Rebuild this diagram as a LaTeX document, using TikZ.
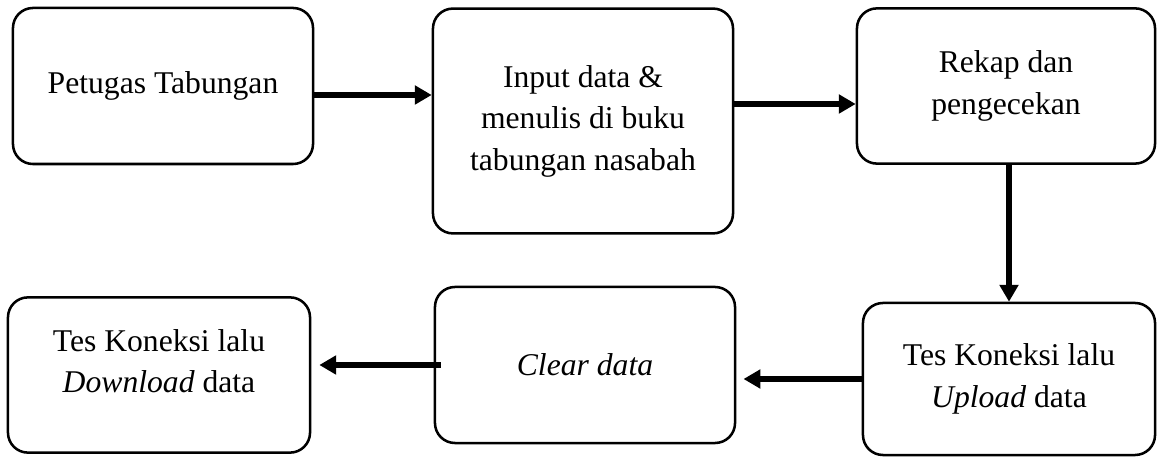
\documentclass[tikz,border=0pt]{standalone}
\usepackage{fontspec}
\setmainfont{Liberation Serif}
\usepackage{tikz}
\usetikzlibrary{arrows.meta,calc,positioning}

\begin{document}
\begin{tikzpicture}[x=0.025cm,y=-0.025cm,
		proses/.style={draw,line width=1.8pt,rounded corners=0.5cm,align=center,
			font=\fontsize{22.5}{29.5}\selectfont,inner sep=0pt},
		alur/.style={line width=3.6pt,-{Triangle[length=12pt,width=13pt]}}]
		\useasboundingbox (0,0) rectangle (1163,457);
		% baris atas
		\node[proses,minimum width=7.5cm,minimum height=3.9cm] (petugas) at (163,86) {Petugas Tabungan};
		\node[proses,minimum width=7.5cm,minimum height=5.62cm] (input) at (583,121) {Input data \&\\ menulis di buku\\ tabungan nasabah};
		\node[proses,minimum width=7.45cm,minimum height=3.88cm] (rekap) at (1006,86) {Rekap dan\\ pengecekan};
		% baris bawah
		\node[proses,minimum width=7.3cm,minimum height=3.8cm] (upload) at (1009,379) {Tes Koneksi lalu\\ \textit{Upload} data};
		\node[proses,minimum width=7.5cm,minimum height=3.9cm] (clear) at (585,365) {\textit{Clear data}};
		\node[proses,minimum width=7.55cm,minimum height=3.88cm,text depth=0.7cm] (download) at (159,375) {Tes Koneksi lalu\\ \textit{Download} data};
		% panah
		\draw[alur] (petugas.east |- 0,95) -- (input.west |- 0,95);
		\draw[alur] (input.east |- 0,104) -- (rekap.west |- 0,104);
		\draw[alur] (upload.north |- rekap.south) -- (upload.north);
		\draw[alur] (upload.west) -- ([xshift=0.18cm]clear.east |- upload.west);
		\draw[alur] ([xshift=0.18cm]clear.west) -- ([xshift=0.2cm]download.east |- clear.west);
\end{tikzpicture}
\end{document}
